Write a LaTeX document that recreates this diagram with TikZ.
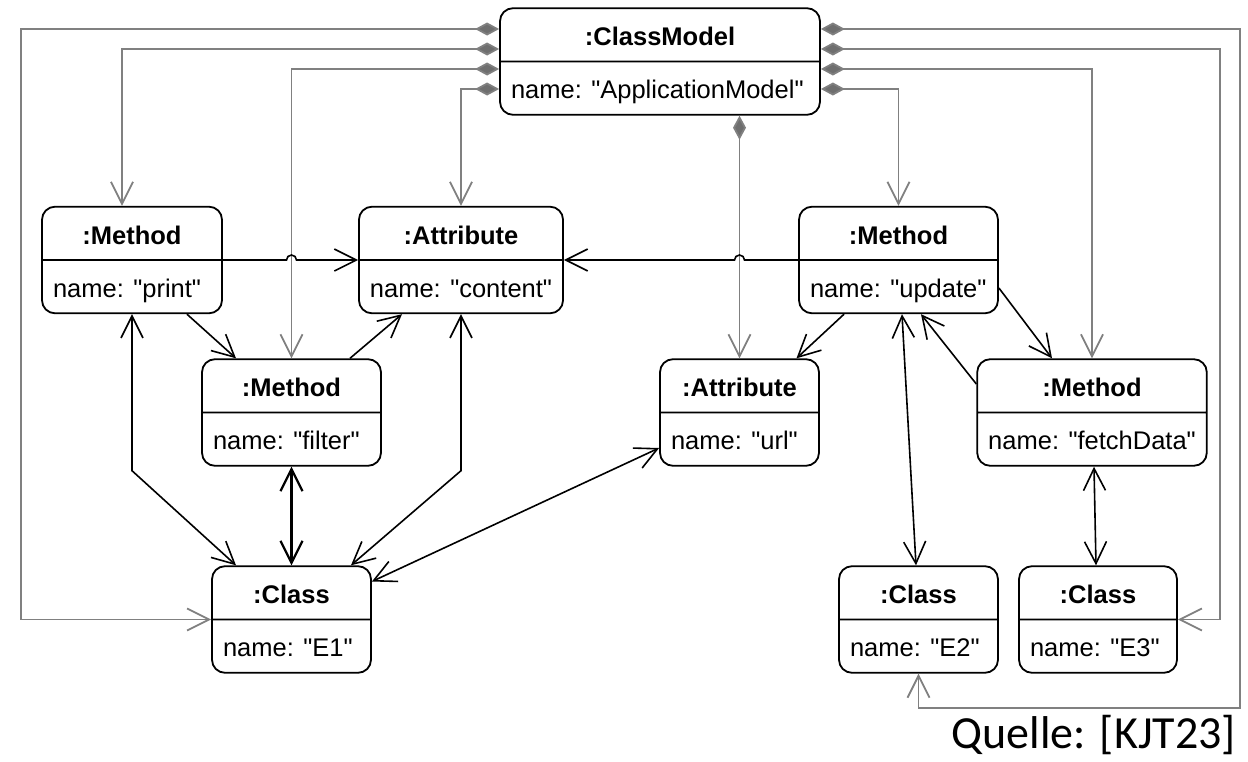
\documentclass[tikz,border=0pt]{standalone}
\usepackage{fontspec}
\setmainfont{Liberation Sans}
\newfontfamily\srcfont{Carlito}
\usetikzlibrary{arrows.meta,shapes.multipart,calc}
\definecolor{linegray}{HTML}{808080}
\definecolor{dmdgray}{HTML}{6E6E6E}
\newcommand{\vstrut}{\rule[-6pt]{0pt}{33.5pt}}
\newcommand{\qt}[1]{\textquotedbl#1\textquotedbl}

\begin{document}
\begin{tikzpicture}[x=1pt, y=-1pt,
  obj/.style={
    draw, line width=1.8pt, rounded corners=13pt,
    rectangle split, rectangle split parts=2,
    rectangle split part align={center,left},
    inner xsep=11pt, inner ysep=9pt,
    font=\fontsize{25.5}{30}\selectfont},
  arr/.style={-{Straight Barb[length=22pt,width=22pt]}, line width=1.6pt},
  arrs/.style={{Straight Barb[length=22pt,width=22pt]}-{Straight Barb[length=22pt,width=22pt]}, line width=1.6pt},
  comp/.style={{Diamond[length=24pt,width=13pt,fill=dmdgray]}-{Straight Barb[length=22pt,width=22pt]},
    linegray, line width=1.8pt},
]
  \useasboundingbox (0,0) rectangle (1248,761);

  % objects
  \node[obj, minimum width=320pt] (cm) at (660,61.5)
    {\textbf{:ClassModel}\vstrut \nodepart{two} name: \qt{ApplicationModel}\vstrut};
  \node[obj, minimum width=180pt] (print) at (132,260)
    {\textbf{:Method}\vstrut \nodepart{two} name: \qt{print}\vstrut};
  \node[obj, minimum width=198pt] (content) at (461,260)
    {\textbf{:Attribute}\vstrut \nodepart{two} name: \qt{content}\vstrut};
  \node[obj, minimum width=199pt] (update) at (898.5,260)
    {\textbf{:Method}\vstrut \nodepart{two} name: \qt{update}\vstrut};
  \node[obj, minimum width=179pt] (filter) at (291.5,412.5)
    {\textbf{:Method}\vstrut \nodepart{two} name: \qt{filter}\vstrut};
  \node[obj, minimum width=159pt] (url) at (739.5,412.5)
    {\textbf{:Attribute}\vstrut \nodepart{two} name: \qt{url}\vstrut};
  \node[obj, minimum width=226pt] (fetch) at (1092,412.5)
    {\textbf{:Method}\vstrut \nodepart{two} name: \qt{fetchData}\vstrut};
  \node[obj, minimum width=159pt] (e1) at (291.5,619.5)
    {\textbf{:Class}\vstrut \nodepart{two} name: \qt{E1}\vstrut};
  \node[obj, minimum width=159pt] (e2) at (918.5,619.5)
    {\textbf{:Class}\vstrut \nodepart{two} name: \qt{E2}\vstrut};
  \node[obj, minimum width=158pt] (e3) at (1098,619.5)
    {\textbf{:Class}\vstrut \nodepart{two} name: \qt{E3}\vstrut};

  % composition links
  \draw[comp] ([yshift=32.5pt]cm.west) -| ([xshift=-190pt]e1.west) -- (e1.west);
  \draw[comp] ([yshift=12.5pt]cm.west) -| ([xshift=-10pt]print.north);
  \draw[comp] ([yshift=-7.5pt]cm.west) -| (filter.north);
  \draw[comp] ([yshift=-27.5pt]cm.west) -| (content.north);
  \draw[comp] ([yshift=32.5pt]cm.east) -| ([xshift=321.5pt,yshift=-34pt]e2.south) -| (e2.south);
  \draw[comp] ([yshift=12.5pt]cm.east) -| ([xshift=42pt]e3.east) -- (e3.east);
  \draw[comp] ([yshift=-7.5pt]cm.east) -| (fetch.north);
  \draw[comp] ([yshift=-27.5pt]cm.east) -| (update.north);
  \draw[comp] (cm.south -| url.north) -- (url.north);

  % links
  \draw[arr] (print.text split east)
    -- ($(print.text split east -| filter.north)+(-5,0)$)
    arc[start angle=180, end angle=360, radius=5] -- (content.text split west);
  \draw[arr] (update.text split west)
    -- ($(update.text split west -| url.north)+(5,0)$)
    arc[start angle=0, end angle=-180, radius=5] -- (content.text split east);
  \draw[arr] ([xshift=55pt]print.south) -- ([xshift=-55.5pt]filter.north);
  \draw[arr] ([xshift=58.5pt]filter.north) -- ([xshift=-59pt]content.south);
  \draw[arrs] (print.south) -- ++(0,156.5) -- ([xshift=-55.5pt]e1.north);
  \draw[arrs, line width=2.2pt] (filter.south) -- (e1.north);
  \draw[arrs] (content.south) -- ++(0,156.5) -- ([xshift=59.5pt]e1.north);
  \draw[arrs] ([yshift=38pt]e1.east) -- ([yshift=-35.5pt]url.west);
  \draw[arr] ([xshift=-54.5pt]update.south) -- ([xshift=57pt]url.north);
  \draw[arr] ([yshift=-28pt]update.east) -- ([xshift=-40pt]fetch.north);
  \draw[arr] ([yshift=28.5pt]fetch.west) -- ([xshift=22.5pt]update.south);
  \draw[arrs] ([xshift=3.5pt]update.south) -- ([xshift=-2.5pt]e2.north);
  \draw[arrs] ([xshift=2pt]fetch.south) -- ([xshift=-2pt]e3.north);

  \node[anchor=base east, inner sep=0pt, font=\srcfont\fontsize{46}{55}\selectfont] (src) at (1236,748) {Quelle: [KJT23]};
\end{tikzpicture}
\end{document}
